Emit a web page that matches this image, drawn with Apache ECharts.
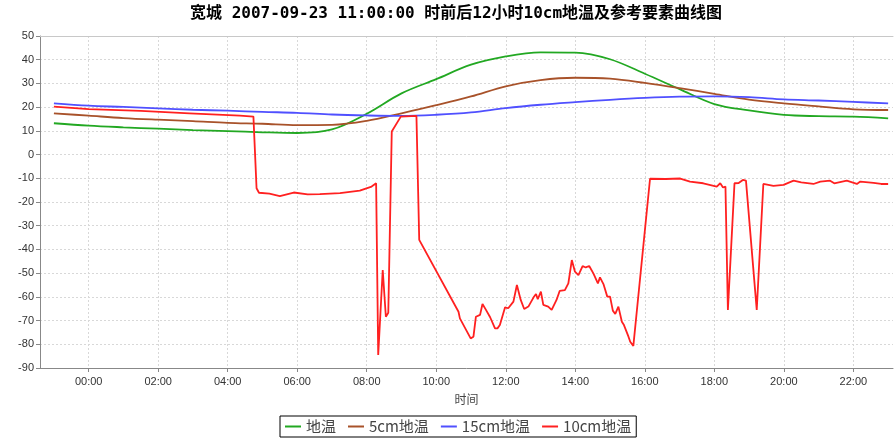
<!DOCTYPE html>
<html>
<head>
<meta charset="utf-8">
<script src="https://cdn.jsdelivr.net/npm/echarts@6.0.0/dist/echarts.min.js"></script>
<style>
    html, body { margin: 0; padding: 0; background: #ffffff; }
    #chart1 { width: 895px; height: 439px; }
</style>
</head>
<body>
<div id="chart1"></div>
<script>
// 时刻（小时，-1 = 前一天 23:00）
var hours = [-1, 0, 1, 2, 3, 4, 5, 6, 7, 8, 9, 10, 11, 12, 13, 14, 15, 16, 17, 18, 19, 20, 21, 22, 23];

var diwen = [13.2, 12.2, 11.5, 10.9, 10.3, 9.9, 9.4, 9.1, 10.6, 17.2, 25.8, 31.8, 37.9, 41.4, 43.1, 43.0, 40.2, 34.1, 27.6, 21.3, 18.6, 16.7, 16.2, 16.0, 15.3];
var diwen5cm = [17.4, 16.4, 15.4, 14.7, 14.1, 13.4, 13.0, 12.4, 12.5, 14.2, 17.4, 20.8, 24.5, 28.8, 31.4, 32.4, 32.0, 30.2, 28.0, 25.6, 23.2, 21.6, 20.3, 19.1, 18.8];
var diwen15cm = [21.6, 20.6, 20.1, 19.5, 18.9, 18.5, 18.0, 17.6, 16.9, 16.5, 16.3, 16.8, 17.8, 19.6, 21.0, 22.1, 23.1, 23.9, 24.4, 24.5, 24.2, 23.3, 22.8, 22.2, 21.6];

// 10cm地温 采样时刻与数值
var hours10cm = [-1, 0, 1.5, 2.9, 4.35, 4.74, 4.83, 4.9, 5.2, 5.5, 5.9, 6.3, 6.65, 7.23, 7.8, 8.14, 8.27, 8.33, 8.46, 8.55, 8.62, 8.72, 8.98, 9.43, 9.51,
    10.64, 10.68, 10.99, 11.07, 11.14, 11.26, 11.33, 11.43, 11.55, 11.69, 11.76, 11.83, 11.98, 12.07, 12.22, 12.32, 12.43, 12.53, 12.65, 12.8, 12.87, 12.92,
    13.01, 13.08, 13.22, 13.32, 13.46, 13.55, 13.7, 13.8, 13.9, 13.99, 14.09, 14.21, 14.3, 14.4, 14.52, 14.65, 14.71, 14.81, 14.92, 15.0, 15.08, 15.15,
    15.24, 15.34, 15.4, 15.53, 15.58, 15.67, 16.15, 16.6, 17.02, 17.3, 17.68, 18.07, 18.17, 18.25, 18.32, 18.39, 18.58, 18.7, 18.82, 18.91, 19.22,
    19.41, 19.7, 19.99, 20.28, 20.5, 20.85, 21.05, 21.33, 21.45, 21.81, 22.1, 22.2, 22.58, 22.8, 23.0];
var diwen10cm = [20.2, 19.2, 18.4, 17.4, 16.4, 16.0, -14.2, -16.1, -16.5, -17.5, -16.0, -16.8, -16.7, -16.3, -15.2, -13.5, -12.1, -84.5, -48.7, -68.4, -66.7, 9.7, 16.0, 16.3, -36.0,
    -66.3, -69.1, -77.5, -76.8, -68.4, -67.6, -63.0, -65.5, -68.6, -73.3, -73.3, -71.9, -64.4, -64.8, -62.0, -55.0, -61.3, -65.1, -64.1, -60.2, -58.8, -61.0,
    -57.8, -63.4, -64.1, -65.5, -61.3, -57.5, -57.2, -54.3, -44.5, -49.4, -50.8, -47.0, -47.6, -47.0, -50.1, -54.3, -51.8, -54.6, -59.9, -59.9, -65.8, -67.2,
    -64.1, -70.5, -71.9, -76.8, -78.9, -80.7, -10.2, -10.3, -10.1, -11.4, -12.1, -13.5, -12.1, -13.9, -13.5, -65.5, -12.1, -12.0, -10.7, -11.0, -65.5,
    -12.4, -13.2, -12.8, -11.0, -11.7, -12.4, -11.4, -11.0, -12.1, -11.0, -12.4, -11.4, -11.9, -12.4, -12.4];

var xTickHours = [0, 2, 4, 6, 8, 10, 12, 14, 16, 18, 20, 22];
var seriesNames = ['地温', '5cm地温', '15cm地温', '10cm地温'];

(function () {
    var myChart = echarts.init(document.getElementById('chart1'));

    function pairs(xs, ys) {
        return ys.map(function (v, i) { return [xs[i], v]; });
    }

    function makeLine(name, data, color, smooth) {
        return {
            name: name,
            type: 'line',
            symbol: 'none',
            smooth: smooth,
            data: data,
            lineStyle: { color: color, width: 1.8 },
            itemStyle: { color: color }
        };
    }

    var option = {
        backgroundColor: '#ffffff',
        animation: false,
        title: {
            text: '宽城 2007-09-23 11:00:00 时前后12小时10cm地温及参考要素曲线图',
            left: 190,
            top: 6,
            padding: 0,
            textStyle: {
                fontFamily: '"DejaVu Sans Mono", "Noto Sans CJK SC"',
                fontWeight: 'bold',
                fontSize: 16,
                color: '#000'
            }
        },
        legend: {
            data: seriesNames,
            left: 280,
            top: 416,
            icon: 'rect',
            itemWidth: 16,
            itemHeight: 2,
            itemGap: 12,
            padding: [3, 5],
            borderColor: '#000',
            borderWidth: 1,
            textStyle: {
                fontFamily: 'Noto Sans CJK SC',
                fontSize: 15,
                color: '#444'
            }
        },
        grid: {
            left: 40,
            right: 2,
            top: 36,
            bottom: 71
        },
        xAxis: [{
            type: 'value',
            min: -1.4,
            max: 23.14,
            name: '时间',
            nameLocation: 'middle',
            nameGap: 25,
            nameTextStyle: {
                fontFamily: 'Noto Sans CJK SC',
                fontSize: 12,
                color: '#444'
            },
            axisLine: { onZero: false, lineStyle: { color: '#888' } },
            axisTick: { customValues: xTickHours, length: 4, lineStyle: { color: '#888' } },
            axisLabel: {
                customValues: xTickHours,
                margin: 8,
                fontFamily: 'Liberation Sans',
                fontSize: 11,
                color: '#333',
                formatter: function (v) {
                    return (v < 10 ? '0' : '') + v + ':00';
                }
            },
            splitLine: {
                show: true,
                lineStyle: { color: '#d8d8d8', type: [2, 2] }
            }
        }, {
            type: 'value',
            position: 'top',
            min: -1.4,
            max: 23.14,
            axisLine: { onZero: false, lineStyle: { color: '#c8c8c8' } },
            axisTick: { show: false },
            axisLabel: { show: false },
            splitLine: { show: false }
        }],
        yAxis: [{
            type: 'value',
            min: -90,
            max: 50,
            interval: 10,
            axisLine: { show: true, onZero: false, lineStyle: { color: '#888' } },
            axisTick: { show: true, length: 4, lineStyle: { color: '#888' } },
            axisLabel: {
                margin: 6,
                fontFamily: 'Liberation Sans',
                fontSize: 11,
                color: '#333'
            },
            splitLine: {
                show: true,
                lineStyle: { color: '#d8d8d8', type: [2, 2] }
            }
        }],
        series: [
            makeLine(seriesNames[0], pairs(hours, diwen), '#22a822', 0.35),
            makeLine(seriesNames[1], pairs(hours, diwen5cm), '#a8522a', 0.35),
            makeLine(seriesNames[2], pairs(hours, diwen15cm), '#5050ff', 0.35),
            makeLine(seriesNames[3], pairs(hours10cm, diwen10cm), '#ff2020', false)
        ]
    };

    myChart.setOption(option);
    window.addEventListener("resize", function () {
        myChart.resize();
    });
})();
</script>
</body>
</html>
